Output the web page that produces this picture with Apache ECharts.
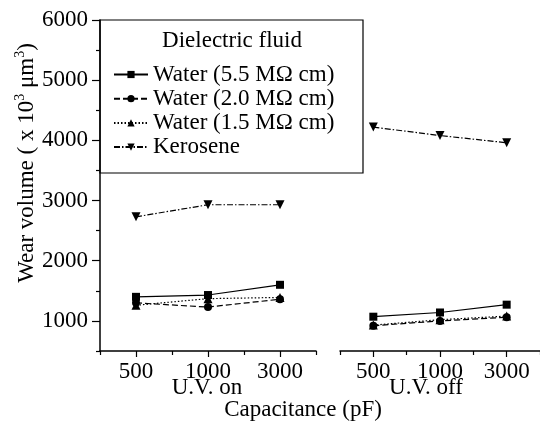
<!DOCTYPE html>
<html>
<head>
<meta charset="utf-8">
<script src="https://cdn.jsdelivr.net/npm/echarts@6/dist/echarts.min.js"></script>
<style>html,body{margin:0;padding:0;background:#fff}#c{width:540px;height:424px}</style>
</head>
<body>
<div id="c"></div>
<script>
// ---- data ----
var categories = ['500', '1000', '3000'];
var seriesNames = ['Water (5.5 M\u03A9 cm)', 'Water (2.0 M\u03A9 cm)', 'Water (1.5 M\u03A9 cm)', 'Kerosene'];
var uvOn55  = [1400, 1430, 1600];
var uvOn20  = [1300, 1230, 1360];
var uvOn15  = [1260, 1370, 1390];
var uvOnKer = [2730, 2930, 2930];
var uvOff55  = [1070, 1140, 1270];
var uvOff20  = [920, 1000, 1060];
var uvOff15  = [930, 1020, 1080];
var uvOffKer = [4220, 4080, 3960];
var yMajorTicks = [1000, 2000, 3000, 4000, 5000, 6000];
var yMinorTicks = [500, 1500, 2500, 3500, 4500, 5500];

var FONT = "'Liberation Serif', 'Times New Roman', serif";
var FS = 23;
var chart = echarts.init(document.getElementById('c'), null, {renderer: 'canvas'});

var styles = [
  {type: 'solid', symbol: 'rect', size: 8, rot: 0},
  {type: [6, 3], symbol: 'circle', size: 8, rot: 0},
  {type: [1.5, 2], symbol: 'triangle', size: 9, rot: 0},
  {type: [6, 2, 1.5, 2], symbol: 'triangle', size: 9, rot: 180}
];
var leftData = [uvOn55, uvOn20, uvOn15, uvOnKer];
var rightData = [uvOff55, uvOff20, uvOff15, uvOffKer];

var series = [];
function mk(idx, data, g) {
  var s = styles[idx];
  return {
    name: seriesNames[idx], type: 'line', xAxisIndex: g * 2, yAxisIndex: g * 2,
    data: data, symbol: s.symbol, symbolSize: s.size, symbolRotate: s.rot,
    itemStyle: {color: '#000'},
    lineStyle: {color: '#000', width: 1.2, type: s.type},
    animation: false, z: 3
  };
}
for (var i = 0; i < 4; i++) { series.push(mk(i, leftData[i], 0)); }
for (var j = 0; j < 4; j++) { series.push(mk(j, rightData[j], 1)); }

function xAxes(grid) {
  return [
    {type: 'category', gridIndex: grid, position: 'bottom', data: categories, boundaryGap: true,
     axisLine: {show: true, lineStyle: {color: '#000', width: 1.5}},
     axisTick: {show: true, alignWithLabel: true, length: 6, lineStyle: {color: '#000', width: 1.2}},
     axisLabel: {show: true, color: '#000', fontFamily: FONT, fontSize: FS, margin: 9},
     splitLine: {show: false}},
    {type: 'category', gridIndex: grid, position: 'bottom', data: categories, boundaryGap: true,
     axisLine: {show: false},
     axisTick: {show: true, length: 4, lineStyle: {color: '#000', width: 1.2}},
     axisLabel: {show: false}, splitLine: {show: false}}
  ];
}
function yAxes(grid, visible) {
  return [
    {type: 'value', gridIndex: grid, position: 'left', min: 500, max: 6000, show: visible,
     axisLine: {show: true, lineStyle: {color: '#000', width: 1.5}},
     axisTick: {show: true, length: 8, customValues: yMajorTicks, lineStyle: {color: '#000', width: 1.2}},
     axisLabel: {show: true, customValues: yMajorTicks, color: '#000', fontFamily: FONT, fontSize: FS, margin: 12,
                 formatter: function (v) { return String(v); }},
     splitLine: {show: false}},
    {type: 'value', gridIndex: grid, position: 'left', min: 500, max: 6000, show: visible,
     axisLine: {show: false},
     axisTick: {show: true, length: 4, customValues: yMinorTicks, lineStyle: {color: '#000', width: 1.2}},
     axisLabel: {show: false}, splitLine: {show: false}}
  ];
}

var option = {
  backgroundColor: '#fff',
  animation: false,
  grid: [
    {left: 100, top: 20, width: 216, height: 331},
    {left: 340, top: 20, width: 204, height: 331}
  ],
  xAxis: xAxes(0).concat(xAxes(1)),
  yAxis: yAxes(0, true).concat(yAxes(1, false)),
  title: {
    text: 'Dielectric fluid', left: 232, top: 29, textAlign: 'center', padding: 0,
    textStyle: {fontFamily: FONT, fontSize: FS, fontWeight: 'normal', color: '#000'}
  },
  legend: {
    data: seriesNames, orient: 'vertical', left: 113, top: 63, padding: 0,
    itemWidth: 34, itemHeight: 9, itemGap: 1.2,
    textStyle: {fontFamily: FONT, fontSize: FS, color: '#000', lineHeight: 23},
    inactiveColor: '#000'
  },
  graphic: [
    {type: 'rect', shape: {x: 100, y: 20, width: 263, height: 153},
     style: {fill: 'rgba(0,0,0,0)', stroke: '#000', lineWidth: 1.2}, z: 10},
    {type: 'text', x: 207, y: 388,
     style: {text: 'U.V. on', fontFamily: FONT, fontSize: FS, fill: '#000', textAlign: 'center', textVerticalAlign: 'middle'}},
    {type: 'text', x: 426, y: 388,
     style: {text: 'U.V. off', fontFamily: FONT, fontSize: FS, fill: '#000', textAlign: 'center', textVerticalAlign: 'middle'}},
    {type: 'text', x: 303, y: 410,
     style: {text: 'Capacitance (pF)', fontFamily: FONT, fontSize: FS, fill: '#000', textAlign: 'center', textVerticalAlign: 'middle'}},
    {type: 'text', x: 27, y: 163, rotation: Math.PI / 2,
     style: {text: 'Wear volume ( x 10{sup|3} \u03BCm{sup|3})', fontFamily: FONT, fontSize: FS, fill: '#000',
       textAlign: 'center', textVerticalAlign: 'middle', lineHeight: 27,
       rich: {sup: {fontFamily: FONT, fontSize: 14, fill: '#000', verticalAlign: 'top', lineHeight: 27}}}}
  ],
  series: series
};
chart.setOption(option);
</script>
</body>
</html>
